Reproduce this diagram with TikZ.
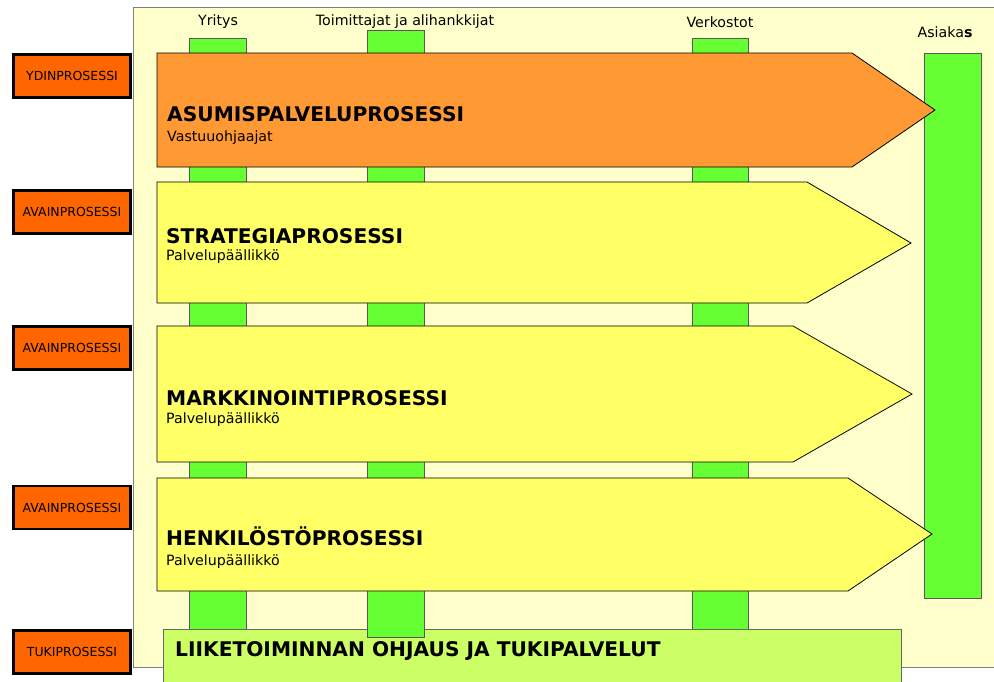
\documentclass[tikz,border=0pt]{standalone}
\usepackage{fontspec}
\setmainfont{DejaVu Sans}
\definecolor{paneltint}{HTML}{FFFFCC}
\definecolor{coreorange}{HTML}{FF9933}
\definecolor{keyyellow}{HTML}{FFFF66}
\definecolor{bargreen}{HTML}{66FF33}
\definecolor{supportgreen}{HTML}{CCFF66}
\definecolor{tagorange}{HTML}{FF6600}

\begin{document}
\begin{tikzpicture}[x=1pt, y=-1pt,
  tag/.style = {draw=black, line width=2.6pt, fill=tagorange, minimum width=117pt, minimum height=43pt, inner sep=0pt, font=\fontsize{12.5}{13}\selectfont},
  bar/.style = {draw=black!65, line width=0.8pt, fill=bargreen},
  flow/.style = {draw=black, line width=0.8pt},
  heading/.style = {anchor=west, inner sep=0pt, font=\bfseries\fontsize{20.2}{22}\selectfont},
  owner/.style = {anchor=west, inner sep=0pt, font=\fontsize{14.2}{16}\selectfont},
  column/.style = {inner sep=0pt, font=\fontsize{14.2}{16}\selectfont}]
\useasboundingbox (0,0) rectangle (994,681);

% tausta
\filldraw[fill=paneltint, draw=black!50, line width=0.8pt] (133,7) rectangle (1000,667);

% sarakkeet
\filldraw[bar] (189,38) rectangle (246,629);
\filldraw[bar] (692,38) rectangle (748,629);
\filldraw[bar] (924,53) rectangle (981,598);
\filldraw[fill=supportgreen, draw=black!60, line width=0.8pt] (163,629) rectangle (901,690);
\filldraw[bar] (367,30) rectangle (424,637);

\node[column] (yritys) at (218,22) {Yritys};
\node[column] (toimittajat) at (405,22) {Toimittajat ja alihankkijat};
\node[column] (verkostot) at (720,22) {Verkostot};
\node[column] (asiakas) at (945,32) {Asiaka\textbf{s}};

% prosessinuolet
\filldraw[flow, fill=coreorange] (157,53) -- (852,53) -- (935,110) -- (852,167) -- (157,167) -- cycle;
\filldraw[flow, fill=keyyellow] (157,182) -- (807,182) -- (911,243) -- (807,303) -- (157,303) -- cycle;
\filldraw[flow, fill=keyyellow] (157,326) -- (793,326) -- (912,394) -- (793,462) -- (157,462) -- cycle;
\filldraw[flow, fill=keyyellow] (157,478) -- (848,478) -- (932,534) -- (848,591) -- (157,591) -- cycle;

\node[heading] (asumis) at (167,114) {ASUMISPALVELUPROSESSI};
\node[owner] (asumisvastuu) at (167,138) {Vastuuohjaajat};
\node[heading] (strategia) at (166,236) {STRATEGIAPROSESSI};
\node[owner] (strategiavastuu) at (166,257) {Palvelupäällikkö};
\node[heading] (markkinointi) at (166,398) {MARKKINOINTIPROSESSI};
\node[owner] (markkinointivastuu) at (166,420) {Palvelupäällikkö};
\node[heading] (henkilosto) at (166,536) {HENKILÖSTÖPROSESSI};
\node[owner] (henkilostovastuu) at (166,562) {Palvelupäällikkö};
\node[heading] (tuki) at (175,651) {LIIKETOIMINNAN OHJAUS JA TUKIPALVELUT};

% prosessityypit
\node[tag] (ydin) at (72,76) {YDINPROSESSI};
\node[tag] (avain1) at (72,212) {AVAINPROSESSI};
\node[tag] (avain2) at (72,348) {AVAINPROSESSI};
\node[tag] (avain3) at (72,507.5) {AVAINPROSESSI};
\node[tag] (tukityyppi) at (72,652) {TUKIPROSESSI};
\end{tikzpicture}
\end{document}
